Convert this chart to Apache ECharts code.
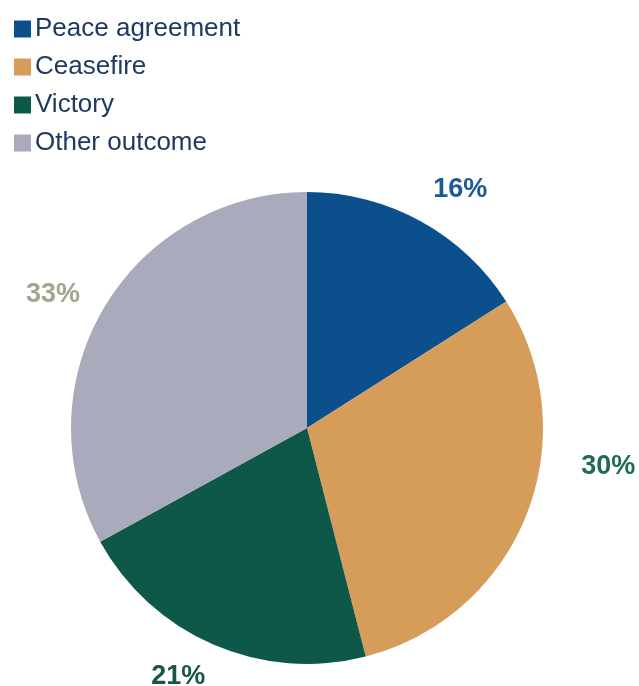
<!DOCTYPE html>
<html>
<head>
<meta charset="utf-8">
<script src="https://cdn.jsdelivr.net/npm/echarts@6/dist/echarts.min.js"></script>
<style>
html,body{margin:0;padding:0;background:#fff;}
#chart{width:639px;height:686px;}
</style>
</head>
<body>
<div id="chart"></div>
<script>
const categories = ["Peace agreement", "Ceasefire", "Victory", "Other outcome"];
const values = [16, 30, 21, 33];
const sliceColors = ["#0b4f8c", "#d69c5a", "#0e584a", "#a9aabb"];
const labelColors = ["#1b5a96", "#1e6b5a", "#17574a", "#a0a58e"];

// label nudges (style/layout only)
const labelNudge = [[-7, -5], [22, -59], [9, 5], [7, 2]];

const chart = echarts.init(document.getElementById('chart'));
chart.setOption({
  animation: false,
  legend: {
    orient: 'vertical',
    left: 9,
    top: 11,
    itemWidth: 17,
    itemHeight: 17,
    itemGap: 12,
    icon: 'rect',
    data: categories,
    textStyle: { fontFamily: 'Liberation Sans', fontSize: 26, color: '#1f3a60', padding: [0,0,0,-1] }
  },
  series: [{
    type: 'pie',
    center: [307, 428],
    radius: 236,
    startAngle: 90,
    clockwise: true,
    data: categories.map((c, i) => ({
      name: c, value: values[i],
      itemStyle: { color: sliceColors[i] },
      label: { color: labelColors[i] }
    })),
    label: {
      show: true,
      position: 'outside',
      formatter: '{c}%',
      fontFamily: 'Liberation Sans',
      fontWeight: 'bold',
      fontSize: 27
    },
    labelLine: { show: false, length: 30, length2: 0 },
    labelLayout: function (p) {
      const n = labelNudge[p.dataIndex];
      return { dx: n[0], dy: n[1] };
    },
    emphasis: { disabled: true }
  }]
});
</script>
</body>
</html>
